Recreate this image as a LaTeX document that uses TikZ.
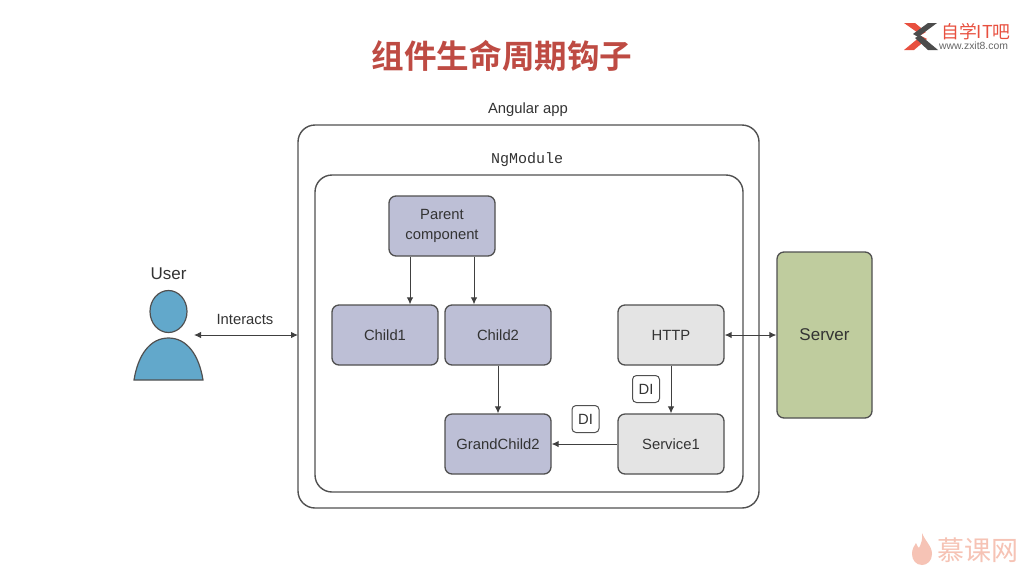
\documentclass[tikz,border=0pt]{standalone}
\usepackage{fontspec}
\setmainfont{Liberation Sans}
\newfontfamily\cjk{Noto Sans CJK SC}
\newfontfamily\cjkb{Noto Sans CJK SC Bold}
\newfontfamily\mono{Liberation Mono}
\usetikzlibrary{arrows.meta,shapes.geometric}
\definecolor{edgeg}{HTML}{505050}
\definecolor{purp}{HTML}{BDBFD6}
\definecolor{lgrey}{HTML}{E4E4E4}
\definecolor{srv}{HTML}{BFCC9E}
\definecolor{blu}{HTML}{62A8CB}
\definecolor{ttl}{HTML}{BE4B43}
\definecolor{logored}{HTML}{E8503F}
\definecolor{flame}{HTML}{F6C3B5}
\tikzset{
  every node/.style={inner sep=0pt,text=black!80},
  lbl/.style={font=\fontsize{14.8}{17.5}\selectfont},
  frame/.style={draw=edgeg,line width=1.4pt,rounded corners=17pt,fill=white},
  compbox/.style={draw=edgeg,line width=1.3pt,rounded corners=7pt,minimum width=106pt,minimum height=60pt,align=center,lbl,fill=purp},
  svcbox/.style={compbox,fill=lgrey},
  dibox/.style={draw=edgeg,line width=1pt,rounded corners=4pt,minimum width=27pt,minimum height=27pt,lbl,fill=white},
  conn/.style={draw=black!75,line width=1pt,-{Latex[length=7pt,width=6.5pt]}},
  biconn/.style={draw=black!75,line width=1pt,{Latex[length=7pt,width=6.5pt]}-{Latex[length=7pt,width=6.5pt]}},
}
\begin{document}
\begin{tikzpicture}[x=1pt,y=-1pt]
\useasboundingbox[fill=white] (0,0) rectangle (1025,566);
% title
\node[font=\cjkb\fontsize{32.6}{38}\selectfont,text=ttl] (title) at (502,56) {组件生命周期钩子};
% logo
\fill[logored] (904,23) -- (915,23) -- (926,32) -- (921,35) -- cycle;
\fill[logored] (904,50) -- (914,50) -- (927,39) -- (921,36) -- cycle;
\fill[black!70] (937,23) -- (928,23) -- (913,34) -- (918,37) -- cycle;
\fill[black!70] (915,38) -- (920,35) -- (938,50) -- (928,50) -- cycle;
\node[font=\cjk\fontsize{17.8}{20}\selectfont,text=logored,anchor=west] (logoa) at (941,32) {自学IT吧};
\node[font=\fontsize{10.4}{12}\selectfont,text=black!60,anchor=west] (logob) at (939,46) {www.zxit8.com};
% footer
\fill[flame] (922,533) .. controls (925,541) and (932,546) .. (932,554) .. controls (932,561) and (927,565) .. (922,565) .. controls (916,565) and (912,560) .. (912,554) .. controls (912,549) and (914,546) .. (916,543) .. controls (917,546) and (918,547) .. (919,548) .. controls (921,544) and (923,539) .. (922,533) -- cycle;
\node[font=\cjk\fontsize{27}{29}\selectfont,text=flame,anchor=west] (footer) at (937,550) {慕课网};
% frames
\node[lbl,anchor=base] (applbl) at (528,113) {Angular app};
\draw[frame] (298,125) rectangle (759,508);
\coordinate (appw) at (298,335);
\node[font=\mono\fontsize{15}{18}\selectfont,anchor=base] (modlbl) at (527,163) {NgModule};
\draw[frame] (315,175) rectangle (743,492);
% components
\node[compbox] (parent) at (442,226) {Parent\\[2pt]component};
\node[compbox] (child1) at (385,335) {Child1};
\node[compbox] (child2) at (498,335) {Child2};
\node[compbox] (grand) at (498,444) {GrandChild2};
\node[svcbox] (http) at (671,335) {HTTP};
\node[svcbox] (svc) at (671,444) {Service1};
\node[draw=edgeg,line width=1.3pt,rounded corners=7pt,fill=srv,minimum width=95pt,minimum height=166pt,font=\fontsize{17}{20}\selectfont] (server) at (824.5,335) {Server};
\node[dibox] (di1) at (646,389) {DI};
\node[dibox] (di2) at (585.5,419) {DI};
% user
\node[font=\fontsize{17}{20}\selectfont] (user) at (168.5,274) {User};
\node[draw=edgeg,line width=1.2pt,fill=blu,ellipse,minimum width=37pt,minimum height=42pt] (head) at (168.5,311.5) {};
\draw[edgeg,line width=1.2pt,fill=blu] (134,380) .. controls (138,355) and (150,338) .. (168.5,338) .. controls (187,338) and (199,355) .. (203,380) -- cycle;
\coordinate (body) at (194,335);
\node[lbl] (inter) at (245,319) {Interacts};
% connectors
\draw[biconn] (body) -- (appw);
\draw[conn] ([xshift=-32pt]parent.south) -- ([xshift=25pt]child1.north);
\draw[conn] ([xshift=32pt]parent.south) -- ([xshift=-24pt]child2.north);
\draw[conn] (child2) -- (grand);
\draw[conn] (http) -- (svc);
\draw[conn] (svc) -- (grand);
\draw[biconn] (http) -- (server);
\end{tikzpicture}
\end{document}
